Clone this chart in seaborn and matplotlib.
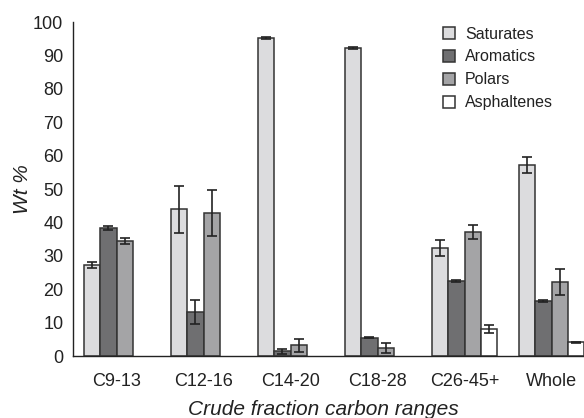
import numpy as np
import pandas as pd
import matplotlib
matplotlib.use('Agg')
import matplotlib.pyplot as plt
import seaborn as sns
from matplotlib.ticker import FixedLocator

ranges = ['C9-13', 'C12-16', 'C14-20', 'C18-28', 'C26-45+', 'Whole']
fractions = ['Saturates', 'Aromatics', 'Polars', 'Asphaltenes']

saturates = [27.2, 44.0, 95.4, 92.3, 32.4, 57.1]
saturates_err = [0.9, 7.0, 0.3, 0.2, 2.4, 2.4]
aromatics = [38.4, 13.1, 1.4, 5.5, 22.5, 16.5]
aromatics_err = [0.6, 3.6, 0.8, 0.2, 0.4, 0.4]
polars = [34.5, 42.9, 3.2, 2.4, 37.2, 22.2]
polars_err = [0.8, 6.8, 2.0, 1.5, 2.0, 3.8]
asphaltenes = [np.nan, np.nan, np.nan, np.nan, 8.1, 4.1]
asphaltenes_err = [np.nan, np.nan, np.nan, np.nan, 1.1, 0.2]

colors = ['#dcdcde', '#6f6f71', '#a4a4a6', '#ffffff']

rows = []
for name, vals, errs in zip(fractions,
                            [saturates, aromatics, polars, asphaltenes],
                            [saturates_err, aromatics_err, polars_err, asphaltenes_err]):
    for r, v, e in zip(ranges, vals, errs):
        rows.append({'range': r, 'fraction': name, 'wt': v, 'err': e})
df = pd.DataFrame(rows).dropna()

sns.set_style('white')
plt.rcParams['font.family'] = ['Liberation Sans', 'DejaVu Sans']

fig = plt.figure(figsize=(5.84, 4.18), dpi=100)
ax = fig.add_axes([0.125, 0.148, 0.894, 0.799])

sns.barplot(data=df, x='range', y='wt', hue='fraction', order=ranges, hue_order=fractions,
            palette=colors, width=0.75, errorbar=None, edgecolor='#333333', linewidth=1.1,
            saturation=1, ax=ax)

for container, level in zip(ax.containers, fractions):
    sub = df[df['fraction'] == level].set_index('range').reindex(ranges).dropna()
    for bar, (_, row) in zip(container, sub.iterrows()):
        xc = bar.get_x() + bar.get_width() / 2
        ax.errorbar(xc, row['wt'], yerr=row['err'], fmt='none', ecolor='#222222',
                    elinewidth=1.2, capsize=3.5, capthick=1.2)

ax.set_ylim(0, 100)
ax.set_xlim(-0.5, 5.5)
ax.set_yticks(range(0, 101, 10))
ax.tick_params(axis='y', direction='out', length=4, width=1, labelsize=13, colors='#222222', pad=3)
ax.tick_params(axis='x', which='major', length=0, labelsize=13, colors='#222222', pad=12)
ax.xaxis.set_minor_locator(FixedLocator([-0.5, 0.5, 1.5, 2.5, 3.5, 4.5]))
ax.tick_params(axis='x', which='minor', direction='out', length=5, width=1, color='#222222')

for side in ['top', 'right']:
    ax.spines[side].set_visible(False)
for side in ['left', 'bottom']:
    ax.spines[side].set_color('#222222')
    ax.spines[side].set_linewidth(1.0)

ax.set_ylabel('Wt %', fontsize=15, style='italic', color='#222222')
ax.set_xlabel('Crude fraction carbon ranges', fontsize=15, style='italic', color='#222222')
ax.yaxis.set_label_coords(-0.078, 0.5)
ax.xaxis.set_label_coords(0.479, -0.13)

leg = ax.legend(loc='upper left', bbox_to_anchor=(0.682, 1.03), frameon=False, fontsize=11.5,
                handlelength=0.75, handleheight=0.75, handletextpad=0.6, labelspacing=0.5)
for t in leg.get_texts():
    t.set_color('#222222')

fig.savefig('out.png', dpi=100)
